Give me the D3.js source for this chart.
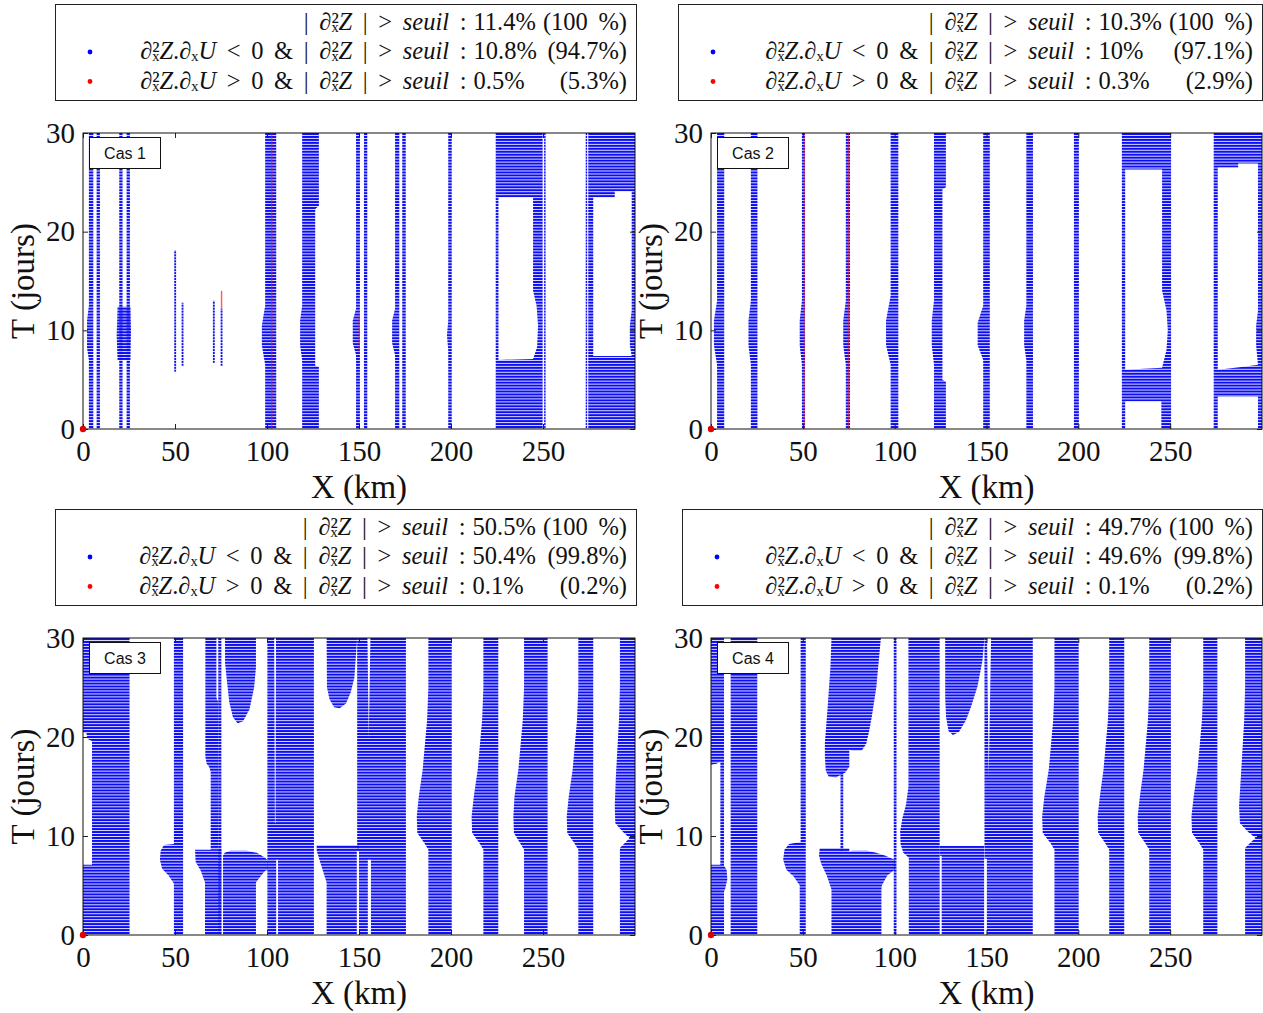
<!DOCTYPE html>
<html><head><meta charset="utf-8">
<script src="https://cdn.jsdelivr.net/npm/d3@7"></script>
<style>body{margin:0;background:#fff}svg{display:block}</style>
</head><body><svg id="c" width="1263" height="1013"></svg>
<script>
// ---------- data (X in km, T in days) ----------
const xTicks = [0, 50, 100, 150, 200, 250];
const yTicks = [0, 10, 20, 30];
const casLabels = ["Cas 1", "Cas 2", "Cas 3", "Cas 4"];
const totalPct = ["11.4%", "10.3%", "50.5%", "49.7%"];
const totalShare = ["(100 %)", "(100 %)", "(100 %)", "(100 %)"];
const negPct = ["10.8%", "10%", "50.4%", "49.6%"];
const negShare = ["(94.7%)", "(97.1%)", "(99.8%)", "(99.8%)"];
const posPct = ["0.5%", "0.3%", "0.1%", "0.1%"];
const posShare = ["(5.3%)", "(2.9%)", "(0.2%)", "(0.2%)"];

// each region: [outer ring, ...holes]; ring = [[X, T], ...]
const cas1Blue = [
 [[[3.2,30],[5.6,30],[5.6,0],[3.2,0],[3.2,7],[2.2,8.2],[2.2,11],[3.2,12.5]]],
 [[[7.4,30],[9.2,30],[9.2,0],[7.4,0]]],
 [[[19.7,30],[21.5,30],[21.5,0],[19.7,0]]],
 [[[23.7,30],[25.5,30],[25.5,0],[23.7,0]]],
 [[[18.8,12.4],[25.8,12.4],[26.1,10],[25.8,7],[18.8,7],[18.3,9.5]]],
 [[[49.6,18.1],[50.6,18.1],[50.6,5.8],[49.6,5.8]]],
 [[[53.6,12.8],[54.6,12.8],[54.6,6.4],[53.6,6.4]]],
 [[[70.6,13.0],[71.6,13.0],[71.6,6.7],[70.6,6.7]]],
 [[[74.8,12.2],[75.8,12.2],[75.8,6.4],[74.8,6.4]]],
 [[[99,30],[105,30],[105,0],[99,0],[99,6.5],[97.2,8.5],[97.2,10.5],[99,12.5]]],
 [[[119.1,30],[128.2,30],[128.2,22.6],[126.2,22.3],[126.2,6.4],[128.2,6.3],[128.2,0],[119.1,0],[119.1,7],[118,8.5],[118,11],[119.1,12.5]]],
 [[[148.4,30],[150.5,30],[150.5,0],[148.4,0],[148.4,7.5],[146.6,8.7],[146.6,11],[148.4,12.2]]],
 [[[152.7,30],[154.5,30],[154.5,0],[152.7,0]]],
 [[[169.6,30],[171.9,30],[171.9,0],[169.6,0],[169.6,7.5],[168,8.7],[168,11],[169.6,12.2]]],
 [[[173.5,30],[175.4,30],[175.4,0],[173.5,0]]],
 [[[198.5,30],[200.4,30],[200.4,0],[198.5,0],[198.5,8],[197.8,9.5],[198.5,11]]],
 [[[224.3,30],[249.8,30],[249.8,0],[224.3,0]],[[225.8,23.5],[244.6,23.5],[244.6,14],[246.5,12.5],[247.3,10.5],[246.8,8.3],[244.6,7.1],[225.8,7]]],
 [[[250.6,30],[251.4,30],[251.4,0],[250.6,0]]],
 [[[273.2,30],[274,30],[274,0],[273.2,0]]],
 [[[274.6,30],[300,30],[300,0],[274.6,0]],[[277.3,23.5],[289,23.5],[289,24.1],[298.2,24.1],[298.2,12],[297.2,10.5],[297.2,8.5],[298.2,7.4],[277.3,7.4]]]
];
const cas1Red = [
 [[[102.3,30],[102.9,30],[102.9,0],[102.3,0]]],
 [[[74.9,14],[75.7,14],[75.7,12.2],[74.9,12.2]]],
 [[[149.8,11.7],[150.3,11.7],[150.3,7.7],[149.8,7.7]]]
];

const cas2Blue = [
 [[[3.3,30],[7.2,30],[7.2,0],[3.3,0],[3.3,6.5],[1.6,8.5],[1.6,11],[3.3,13]]],
 [[[21.7,30],[25.3,30],[25.3,0],[21.7,0],[21.7,6.5],[20.4,8.5],[20.4,11],[21.7,13]]],
 [[[49.5,30],[51.2,30],[51.2,0],[49.5,0],[49.5,6.5],[48.3,8.5],[48.3,11],[49.5,13]]],
 [[[73.4,30],[75.7,30],[75.7,0],[73.4,0],[73.4,6.5],[72,8.5],[72,11],[73.4,13]]],
 [[[97.8,30],[102,30],[102,0],[97.8,0],[97.8,6.5],[95.3,8.5],[95.3,11],[97.8,13.5]]],
 [[[121.4,30],[127.9,30],[127.9,24.5],[126,24.3],[126,5],[127.9,4.8],[127.9,0],[121.4,0],[121.4,6.5],[120.2,8.5],[120.2,11],[121.4,13]]],
 [[[148.2,30],[151.8,30],[151.8,0],[148.2,0],[148.2,7],[145.2,8.5],[145.2,10.8],[148.2,12.5]]],
 [[[171.7,30],[175.3,30],[175.3,0],[171.7,0],[171.7,7],[170.5,8.5],[170.5,11],[171.7,12.5]]],
 [[[197.6,30],[200.3,30],[200.3,0],[197.6,0]]],
 [[[223.7,30],[250.5,30],[250.5,0],[223.7,0]],[[225.5,26.3],[245.6,26.3],[245.6,14],[248,12],[248.7,10],[248,8],[245.6,6.2],[225.5,6.0]],[[225.5,2.8],[245.2,2.8],[245.2,0],[225.5,0]]],
 [[[273.7,30],[300,30],[300,0],[273.7,0]],[[275.9,26.5],[287,26.5],[287,26.9],[297.8,26.9],[297.8,12],[296.8,10.5],[296.8,8.5],[297.8,6.5],[290,6.3],[275.9,6.0]],[[275.9,3.3],[297.8,3.3],[297.8,0],[275.9,0]]]
];
const cas2Red = [
 [[[50.5,30],[51,30],[51,0],[50.5,0]]],
 [[[74.5,30],[75,30],[75,0],[74.5,0]]]
];

const cas3Blue = [
 [[[0,30],[25.3,30],[25.3,0],[0,0]],[[0,20.4],[1.8,20.4],[2.5,19.8],[4.9,19.6],[4.9,7.1],[0,7.1]]],
 [[[49.4,30],[54.4,30],[54.4,0],[49.4,0],[49.4,5.2],[46.5,6],[43,6.7],[41.8,7.6],[42.2,8.5],[44,9.1],[49.4,9.2]]],
 [[[66.5,30],[72.5,30],[72.5,24],[73.5,23.5],[73.5,8.6],[69.4,8.6],[69.4,16.5],[68.5,17],[67.2,17.3],[66.5,18]]],
 [[[73.5,30],[75.2,30],[75.2,0],[73.5,0]]],
 [[[77.2,30],[94,30],[94,27],[93,25],[90.5,22.8],[87,21.6],[84,21.4],[81.5,22],[79.5,23.5],[78.3,25.5],[77.2,27.5]]],
 [[[60.9,8.6],[75.2,8.6],[75.2,0],[66.3,0],[66.3,5.3],[64,6.5],[61.2,7.4]]],
 [[[76.1,0],[76.1,8],[77,8.3],[80,8.5],[89,8.5],[94.5,8.3],[99,7.8],[100.5,7.5],[100.5,6.6],[99,6.5],[96,5.8],[94,5.3],[94,0]]],
 [[[100.2,30],[125.5,30],[125.5,0],[100.2,0]],[[103.9,30],[104.9,30],[104.6,11.3],[104.3,11.3]],[[105,7.6],[106,7.6],[106,0],[105,0]]],
 [[[127,9.1],[150,9.1],[150,8.5],[148.8,8.5],[148.8,0],[132.4,0],[132.4,5.3],[129.5,7],[127,8.5]]],
 [[[132.4,30],[149,30],[147.5,26],[145.5,24.5],[143,23.4],[139.5,22.9],[136.5,23],[134,23.8],[132.6,25]]],
 [[[149,30],[175.5,30],[175.5,0],[150,0],[150,8.5],[149,8.5]],[[154.6,30],[156.2,30],[155.3,19.9]],[[154.8,7.6],[156.5,7.6],[156.5,0],[154.8,0]]],
 [[[187.7,30],[200.4,30],[200.4,0],[187.7,0],[187.7,8.6],[185.5,9.3],[181.7,10.3],[181.4,12],[182.5,14],[184.6,16.7],[187,21.7],[187.7,25]]],
 [[[217.6,30],[225.7,30],[225.7,0],[217.6,0],[217.6,8.6],[215.4,9.3],[211.5,10.3],[211.2,12],[212.4,14],[214.5,16.7],[216.9,21.7],[217.6,25]]],
 [[[239.7,30],[252.5,30],[252.5,0],[239.7,0],[239.7,8.6],[237.5,9.3],[234.2,10.3],[233.9,12],[234.5,14],[236.6,16.7],[239,21.7],[239.7,25]]],
 [[[269.2,30],[277.3,30],[277.3,0],[269.2,0],[269.2,8.6],[267,9.3],[263.2,10.3],[262.9,12],[264,14],[266.1,16.7],[268.5,21.7],[269.2,25]]],
 [[[291.8,30],[300,30],[300,0],[291.8,0],[291.8,8.8],[294.5,9.3],[297,9.8],[293.5,10.4],[289.3,11.3],[289,13],[289.6,16],[291.3,21.7],[291.8,25]]]
];
const cas3Red = [];

const cas4Blue = [
 [[[0,30],[7.1,30],[7.1,7],[8.5,6.6],[8.9,5.6],[7.6,4.6],[7.1,4.4],[7.1,0],[0,0]],[[0,17.2],[3,17.3],[5.1,17.5],[5.1,7.1],[0,7.1]]],
 [[[10.7,30],[25.2,30],[25.2,0],[10.7,0]]],
 [[[48.8,30],[51.6,30],[51.6,0],[48.3,0],[48.3,5],[45,5.9],[41,6.6],[39.3,7.6],[40,8.6],[42.5,9.2],[48.8,9.4]]],
 [[[65.6,30],[92.5,30],[90,25],[87.5,22],[86,20.5],[84.5,19.3],[82,18.6],[77,18.6],[75.3,18.7],[75.3,17],[73,16.4],[71,16.2],[68,15.9],[64,16],[62.5,16.6],[62,18],[62,19.4],[63.5,23],[65,27]]],
 [[[70.5,16.5],[72,16.5],[72,8.5],[70.5,8.5]]],
 [[[59.2,8.8],[75.3,8.8],[75.3,8.4],[77,8.5],[85,8.5],[90,8.3],[95,8],[100,7.6],[100.5,7],[100,6.6],[96,6],[93,5],[92.8,4.6],[92.8,0],[65.6,0],[65.6,4.6],[63,6],[60,7.2],[58.8,8]]],
 [[[99.5,30],[101,30],[101,0],[99.5,0]]],
 [[[107.5,30],[124.5,30],[124.5,0],[107.7,0],[107.7,7.8],[104.7,8.3],[103.2,9.2],[103,10.5],[104.2,11.8],[106.2,13.2],[107.5,15]]],
 [[[127.5,30],[148.9,30],[147.8,27.7],[145.1,25.1],[141.5,23],[138.8,21.7],[135,20.5],[131.7,20.2],[129.3,20.6],[128,22],[127.5,24]]],
 [[[124.5,9],[148.7,9],[148.7,0],[125.6,0],[125.6,8],[124.5,8]]],
 [[[148.9,30],[175.2,30],[175.2,0],[150.2,0],[150.2,7.7],[148.9,7.7]],[[150.3,30],[152.5,30],[151.2,16]]],
 [[[187,30],[200.2,30],[200.2,0],[187,0],[187,8.6],[184.8,9.3],[180.6,10.3],[180.3,12],[181.5,14],[183.9,16.7],[186.3,21.7],[187,25]]],
 [[[216.8,30],[225,30],[225,0],[216.8,0],[216.8,8.6],[214.6,9.3],[210.8,10.3],[210.5,12],[211.7,14],[213.7,16.7],[216.1,21.7],[216.8,25]]],
 [[[238.6,30],[250.4,30],[250.4,0],[238.6,0],[238.6,8.6],[236.4,9.3],[232.6,10.3],[232.3,12],[233.5,14],[235.5,16.7],[237.9,21.7],[238.6,25]]],
 [[[268,30],[275.7,30],[275.7,0],[268,0],[268,8.6],[265.8,9.3],[261.9,10.3],[261.6,12],[262.8,14],[264.9,16.7],[267.3,21.7],[268,25]]],
 [[[290.8,30],[300,30],[300,0],[290.8,0],[290.8,8.8],[293.5,9.3],[296.5,9.8],[292.5,10.4],[288,11.3],[287.5,13],[288.5,16],[290.3,21.7],[290.8,25]]]
];
const cas4Red = [];

// ---------- layout ----------
const blueShapes = [cas1Blue, cas2Blue, cas3Blue, cas4Blue];
const redShapes = [cas1Red, cas2Red, cas3Red, cas4Red];
const panels = [
  {l:83, r:635, t:133, b:429, lg:[55,4,636,100]},
  {l:711, r:1262, t:133, b:429, lg:[678,4,1262,100]},
  {l:83, r:635, t:638, b:935, lg:[55,509,636,605]},
  {l:711, r:1262, t:638, b:935, lg:[682,509,1262,605]}
];
const BLUE = "#0d0df2", RED = "#ff1a1a";
const SERIF = "'Liberation Serif','DejaVu Serif',serif";
const svg = d3.select("#c");
const defs = svg.append("defs");

panels.forEach((p, i) => {
  const x = d3.scaleLinear().domain([0, 300]).range([p.l, p.r]);
  const y = d3.scaleLinear().domain([0, 30]).range([p.b, p.t]);
  const rowH = (p.b - p.t) / 100;
  const pat = defs.append("pattern").attr("id", "st" + i)
    .attr("patternUnits", "userSpaceOnUse").attr("x", 0).attr("y", p.t)
    .attr("width", 8).attr("height", rowH);
  pat.append("rect").attr("width", 8).attr("height", rowH - 0.85).attr("fill", BLUE);
  defs.append("clipPath").attr("id", "cl" + i).append("rect")
    .attr("x", p.l).attr("y", p.t).attr("width", p.r - p.l).attr("height", p.b - p.t);

  const g = svg.append("g");
  const line = d3.line().x(d => x(d[0])).y(d => y(d[1])).curve(d3.curveLinearClosed);
  const plot = g.append("g").attr("clip-path", `url(#cl${i})`);
  plot.selectAll("path.b").data(blueShapes[i]).join("path").attr("class", "b")
    .attr("d", rings => rings.map(r => line(r)).join(""))
    .attr("fill", `url(#st${i})`).attr("fill-rule", "evenodd");
  plot.selectAll("path.r").data(redShapes[i]).join("path").attr("class", "r")
    .attr("d", rings => rings.map(r => line(r)).join(""))
    .attr("fill", RED).attr("opacity", 0.7);

  // axes
  const ax = g.append("g").attr("transform", `translate(0,${p.b})`)
    .call(d3.axisBottom(x).tickValues(xTicks).tickSize(-5).tickPadding(11));
  const axT = g.append("g").attr("transform", `translate(0,${p.t})`)
    .call(d3.axisTop(x).tickValues(xTicks).tickSize(-5));
  const ay = g.append("g").attr("transform", `translate(${p.l},0)`)
    .call(d3.axisLeft(y).tickValues(yTicks).tickSize(-5).tickPadding(8));
  const ayR = g.append("g").attr("transform", `translate(${p.r},0)`)
    .call(d3.axisRight(y).tickValues(yTicks).tickSize(-5));
  axT.selectAll("text").remove();
  ayR.selectAll("text").remove();
  [ax, axT, ay, ayR].forEach(a => {
    a.select(".domain").remove();
    a.selectAll("line").attr("stroke", "#222");
    a.attr("font-family", SERIF).attr("font-size", 29);
    a.selectAll("text").attr("fill", "#111");
  });
  g.append("rect").attr("x", p.l).attr("y", p.t).attr("width", p.r - p.l).attr("height", p.b - p.t)
    .attr("fill", "none").attr("stroke", "#111").attr("stroke-width", 1);

  g.append("text").attr("x", (p.l + p.r) / 2).attr("y", p.b + 69).attr("text-anchor", "middle")
    .attr("font-family", SERIF).attr("font-size", 33).attr("fill", "#111").text("X (km)");
  g.append("text").attr("transform", `translate(${p.l - 49},${(p.t + p.b) / 2}) rotate(-90)`)
    .attr("text-anchor", "middle").attr("font-family", SERIF).attr("font-size", 33).attr("fill", "#111")
    .text("T (jours)");

  // Cas box
  g.append("rect").attr("x", p.l + 6.5).attr("y", p.t + 4.5).attr("width", 71).attr("height", 31)
    .attr("fill", "#fff").attr("stroke", "#111");
  g.append("text").attr("x", p.l + 42).attr("y", p.t + 26).attr("text-anchor", "middle")
    .attr("font-family", "'Liberation Sans',Arial,sans-serif").attr("font-size", 16).attr("fill", "#111")
    .text(casLabels[i]);

  // origin dot
  g.append("circle").attr("cx", x(0)).attr("cy", y(0)).attr("r", 3.2).attr("fill", "#e00000");

  // legend
  const [lx0, ly0, lx1, ly1] = p.lg;
  const L = svg.append("g");
  L.append("rect").attr("x", lx0 + 0.5).attr("y", ly0 + 0.5).attr("width", lx1 - lx0).attr("height", ly1 - ly0)
    .attr("fill", "#fff").attr("stroke", "#222");
  const S = 24.5;
  function mk() {
    return L.append("text").attr("font-family", SERIF).attr("font-size", S).attr("fill", "#111")
      .attr("word-spacing", 4.5);
  }
  // math built from Unicode super/subscript characters on one baseline
  function builder(t) {
    const put = (s, o = {}) => {
      const ts = t.append("tspan").text(s);
      if (o.it) ts.attr("font-style", "italic");
      if (o.dx) ts.attr("dx", o.dx);
      return api;
    };
    const api = {
      t: (s) => put(s),
      i: (s) => put(s, {it: true}),
      d2: () => { put("\u2202\u00b2\u2093", {dx: `0 0 ${(-0.3 * S).toFixed(2)}`}); return api; },
      d1: () => { put("\u2202\u2093"); return api; }
    };
    return api;
  }
  const R = lx1 - 9;
  const base = [ly0 + 25.5, ly0 + 55, ly0 + 84.5];
  const pre = [mk(), mk(), mk()];
  builder(pre[0]).t("| ").d2().i("Z").t(" | > ").i("seuil").t(" :");
  builder(pre[1]).d2().i("Z").t(".").d1().i("U").t(" < 0 & | ").d2().i("Z").t(" | > ").i("seuil").t(" :");
  builder(pre[2]).d2().i("Z").t(".").d1().i("U").t(" > 0 & | ").d2().i("Z").t(" | > ").i("seuil").t(" :");
  const vals = [totalPct[i], negPct[i], posPct[i]].map(s => mk().text(s));
  const shares = [totalShare[i], negShare[i], posShare[i]].map(s => mk().text(s));
  const sp = 7;
  const colW = d3.max([0, 1, 2], k => vals[k].node().getBBox().width + sp + shares[k].node().getBBox().width);
  const valX = R - colW;
  [0, 1, 2].forEach(k => {
    pre[k].attr("x", valX - sp).attr("y", base[k]).attr("text-anchor", "end");
    vals[k].attr("x", valX).attr("y", base[k]);
    shares[k].attr("x", R).attr("y", base[k]).attr("text-anchor", "end");
  });
  L.append("circle").attr("cx", lx0 + 35).attr("cy", base[1] - 7).attr("r", 2.4).attr("fill", "#0000ff");
  L.append("circle").attr("cx", lx0 + 35).attr("cy", base[2] - 7).attr("r", 2.4).attr("fill", "#ff0000");
});
</script></body></html>
